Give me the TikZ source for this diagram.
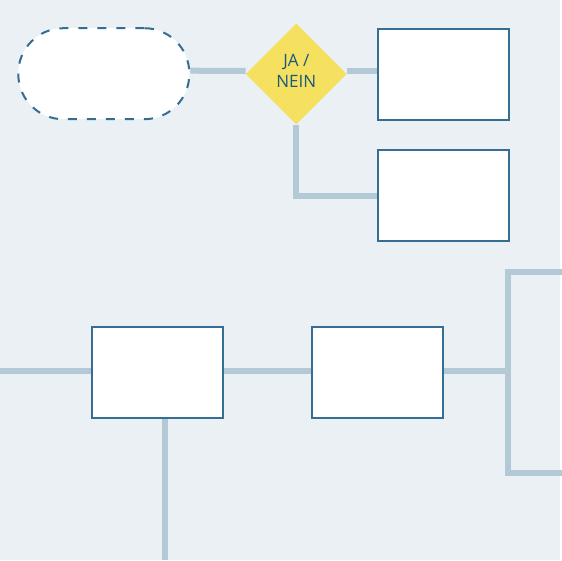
\documentclass[tikz,border=0pt]{standalone}
\usepackage{fontspec}
\setmainfont{Open Sans}
\usetikzlibrary{shapes.geometric}
\pgfdeclarelayer{bg}
\pgfsetlayers{bg,main}
\definecolor{bgc}{HTML}{EAF0F3}
\definecolor{linec}{HTML}{B3C9D5}
\definecolor{boxc}{HTML}{346E93}
\definecolor{diac}{HTML}{F5E060}
\definecolor{txtc}{HTML}{1A5880}
\tikzset{
  conn/.style={draw=linec, line width=6pt},
  box/.style={draw=boxc, line width=2pt, fill=white, rectangle, minimum width=131pt, minimum height=91pt, inner sep=0pt},
  term/.style={draw=boxc, line width=2pt, fill=white, rectangle, rounded corners=45pt, dash pattern=on 9pt off 10pt, minimum width=171pt, minimum height=91pt, inner sep=0pt},
  decide/.style={shape=diamond, fill=diac, minimum width=101pt, minimum height=101pt, inner sep=0pt},
  lbl/.style={text=txtc, font=\fontsize{17}{20.7}\selectfont, align=center, inner sep=0pt}
}
\begin{document}
\begin{tikzpicture}[x=1pt,y=-1pt]
\useasboundingbox (0,0) rectangle (562,560);
% nodes
\node[term] (s) at (103.8,73.7) {};
\node[decide] (d) at (296.3,74) {};
\node[lbl] (dt) at (296.3,71) {JA /\\NEIN};
\node[box] (b1) at (443.8,74) {};
\node[box] (b2) at (443.8,195) {};
\node[box] (b3) at (157.8,372.8) {};
\node[box] (b4) at (377.8,372.8) {};
\coordinate (lin) at (0,371);
\coordinate (bot) at (165,560);
\coordinate (bj) at (508,371);
\coordinate (bt) at (562,272);
\coordinate (bb) at (562,473);
\begin{pgfonlayer}{bg}
\fill[white] (0,0) rectangle (562,560);
\fill[bgc] (0,0) rectangle (560,560);
\draw[conn] ([yshift=3pt]s.east) -- ([yshift=3pt]d.west);
\draw[conn] ([yshift=3pt]d.east) -- ([yshift=3pt]b1.west);
\draw[conn] (d.south) |- ([yshift=-1pt]b2.west);
\draw[conn] (lin) -- (lin -| b3.west);
\draw[conn] (lin -| b3.east) -- (lin -| b4.west);
\draw[conn] (lin -| b4.east) -- (bj);
\draw[conn, line join=miter] (bt) -- (bt -| bj) -- (bb -| bj) -- (bb);
\draw[conn] (b3.south -| bot) -- (bot);
\end{pgfonlayer}
\end{tikzpicture}
\end{document}
